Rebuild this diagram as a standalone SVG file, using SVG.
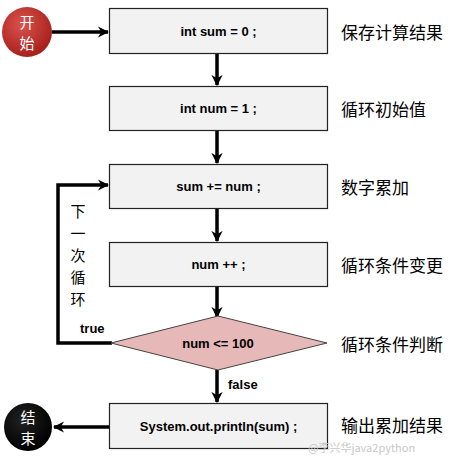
<svg xmlns="http://www.w3.org/2000/svg" width="456" height="457" viewBox="0 0 456 457">
<defs>
<marker id="ah" viewBox="0 0 10 10" refX="9" refY="5" markerWidth="3.2" markerHeight="3.2" orient="auto" markerUnits="strokeWidth">
<path d="M0,0 L10,5 L0,10 L3,5 Z" fill="#000"/>
</marker>
<radialGradient id="red" cx="40%" cy="35%" r="65%">
<stop offset="0" stop-color="#d9534f"/>
<stop offset="1" stop-color="#a8201c"/>
</radialGradient>
<radialGradient id="blk" cx="40%" cy="35%" r="65%">
<stop offset="0" stop-color="#222"/>
<stop offset="1" stop-color="#000"/>
</radialGradient>
</defs>
<style>
.box{fill:#f2f2f2;stroke:#222;stroke-width:1.2}
.dia{fill:#e6b8b7;stroke:#444;stroke-width:1}
.code{font-family:"Liberation Sans","Open Sans",sans-serif;font-weight:bold;font-size:13px;fill:#000;text-anchor:middle;dominant-baseline:central}
.lbl{font-family:"Noto Sans CJK SC",serif;font-size:17px;fill:#000;dominant-baseline:central}
.cw{font-family:"Noto Sans CJK SC",sans-serif;font-size:15px;fill:#fff;text-anchor:middle;dominant-baseline:central}
.vt{font-family:"Noto Sans CJK SC",serif;font-size:15px;fill:#000;text-anchor:middle;dominant-baseline:central}
.con{fill:none;stroke:#000;stroke-width:3.5}
.tf{font-family:"Liberation Sans","Open Sans",sans-serif;font-weight:bold;font-size:13px;fill:#000;dominant-baseline:central}
</style>
<rect width="456" height="457" fill="#fff"/>
<g id="connectors">
<line class="con" x1="52" y1="32" x2="108" y2="32" marker-end="url(#ah)"/>
<line class="con" x1="217" y1="53" x2="217" y2="85" marker-end="url(#ah)"/>
<line class="con" x1="217" y1="130" x2="217" y2="163" marker-end="url(#ah)"/>
<line class="con" x1="217" y1="208" x2="217" y2="241" marker-end="url(#ah)"/>
<line class="con" x1="217" y1="287" x2="217" y2="317" marker-end="url(#ah)"/>
<line class="con" x1="217" y1="370" x2="217" y2="402" marker-end="url(#ah)"/>
<line class="con" x1="109" y1="427" x2="54" y2="427" marker-end="url(#ah)"/>
<polyline class="con" points="112,343 58,343 58,185 108,185" marker-end="url(#ah)"/>
<text class="tf" x="80" y="328">true</text>
<text class="tf" x="228" y="384">false</text>
<g class="vt">
<text x="78" y="210">下</text>
<text x="78" y="232">一</text>
<text x="78" y="254">次</text>
<text x="78" y="276">循</text>
<text x="78" y="298">环</text>
</g>
</g>
<g id="start">
<circle cx="27" cy="32" r="25" fill="url(#red)"/>
<text class="cw" x="27" y="21.5">开</text>
<text class="cw" x="27" y="42.5">始</text>
</g>
<g id="n1">
<rect class="box" x="109.5" y="8.5" width="218" height="45"/>
<text class="code" x="218.5" y="31">int sum = 0 ;</text>
</g>
<g id="n2">
<rect class="box" x="109.5" y="86.5" width="218" height="44"/>
<text class="code" x="218.5" y="108.5">int num = 1 ;</text>
</g>
<g id="n3">
<rect class="box" x="109.5" y="164.5" width="218" height="44"/>
<text class="code" x="218.5" y="186.5">sum += num ;</text>
</g>
<g id="n4">
<rect class="box" x="109.5" y="242.5" width="218" height="44"/>
<text class="code" x="218.5" y="264.5">num ++ ;</text>
</g>
<g id="cond">
<polygon class="dia" points="111,343 218,316 327,343 218,370"/>
<text class="code" x="218" y="343">num &lt;= 100</text>
</g>
<g id="n5">
<rect class="box" x="109.5" y="403.5" width="218" height="45"/>
<text class="code" x="218.5" y="426">System.out.println(sum) ;</text>
</g>
<g id="end">
<circle cx="28" cy="427" r="24" fill="url(#blk)"/>
<text class="cw" x="28" y="416.5">结</text>
<text class="cw" x="28" y="437.5">束</text>
</g>
<g id="labels">
<text class="lbl" x="341" y="31">保存计算结果</text>
<text class="lbl" x="341" y="108">循环初始值</text>
<text class="lbl" x="341" y="186">数字累加</text>
<text class="lbl" x="341" y="264">循环条件变更</text>
<text class="lbl" x="341" y="343">循环条件判断</text>
<text class="lbl" x="341" y="424">输出累加结果</text>
<text x="308" y="447" font-family="Noto Sans CJK SC,sans-serif" font-size="11" fill="#c8c8c8" dominant-baseline="central">@李兴华java2python</text>
</g>
</svg>
